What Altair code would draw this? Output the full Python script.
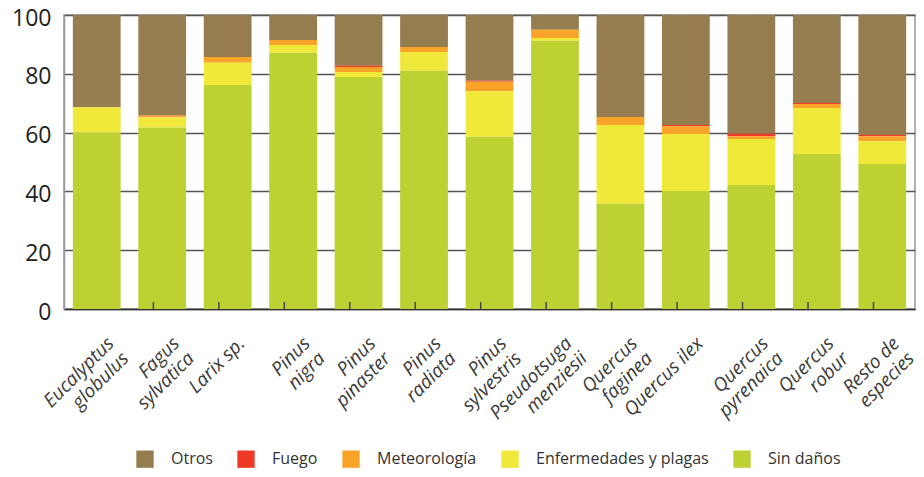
import altair as alt
import pandas as pd

categories = ["Eucalyptus|globulus", "Fagus|sylvatica", "Larix sp.", "Pinus|nigra",
              "Pinus|pinaster", "Pinus|radiata", "Pinus|sylvestris", "Pseudotsuga|menziesii",
              "Quercus|faginea", "Quercus ilex", "Quercus|pyrenaica", "Quercus|robur",
              "Resto de|especies"]
series = ["Otros", "Fuego", "Meteorología", "Enfermedades y plagas", "Sin daños"]
colors = ["#967D4F", "#EE3A24", "#F9A428", "#F0E93A", "#BDD232"]

sin_danos = [60.0, 61.7, 76.2, 87.2, 78.9, 81.0, 58.6, 91.2, 35.8, 40.1, 42.2, 52.7, 49.3]
enfermedades = [8.5, 3.4, 7.6, 2.6, 1.7, 6.4, 15.5, 1.0, 26.8, 19.4, 15.6, 15.7, 7.8]
meteorologia = [0.2, 0.6, 1.9, 1.7, 1.7, 1.7, 3.2, 2.8, 2.7, 2.7, 1.0, 1.3, 1.7]
fuego = [0.0, 0.1, 0.0, 0.0, 0.4, 0.0, 0.3, 0.0, 0.0, 0.4, 0.8, 0.4, 0.4]
otros = [31.3, 34.2, 14.3, 8.5, 17.3, 10.9, 22.4, 5.0, 34.7, 37.4, 40.4, 29.9, 40.8]

values = {"Otros": otros, "Fuego": fuego, "Meteorología": meteorologia,
          "Enfermedades y plagas": enfermedades, "Sin daños": sin_danos}
stack_rank = {"Sin daños": 0, "Enfermedades y plagas": 1, "Meteorología": 2, "Fuego": 3, "Otros": 4}

rows = []
for s in series:
    for c, v in zip(categories, values[s]):
        rows.append({"cat": c, "serie": s, "valor": v, "orden": stack_rank[s]})
df = pd.DataFrame(rows)
ticks_df = pd.DataFrame({"cat": categories[1:]})

FONT = "Open Sans"

xscale = alt.Scale(domain=categories, paddingInner=0.27, paddingOuter=0.135)

bars = alt.Chart(df).mark_bar().encode(
    x=alt.X("cat:N", sort=categories, scale=xscale,
            axis=alt.Axis(title=None, labelExpr="split(datum.label, '|')",
                          labelAngle=-45, labelAlign="right", labelBaseline="middle",
                          labelFontSize=19, labelFontStyle="italic", labelColor="#3a3a3a",
                          labelFont=FONT, labelPadding=31, labelOffset=14, ticks=False,
                          labelLineHeight=21, labelLimit=300,
                          domainColor="#333", domainWidth=1.5)),
    y=alt.Y("valor:Q", stack="zero",
            scale=alt.Scale(domain=[0, 100], nice=False),
            axis=alt.Axis(title=None, values=[0, 20, 40, 60, 80, 100], ticks=False,
                          labelFontSize=23, labelFont=FONT, labelColor="#222",
                          labelPadding=13, labelOffset=3, grid=True, gridColor="#555",
                          gridWidth=1.5, domainColor="#999", domainWidth=1.5)),
    color=alt.Color("serie:N", scale=alt.Scale(domain=series, range=colors),
                    legend=alt.Legend(title=None, orient="none", direction="horizontal",
                                      legendX=72, legendY=435, symbolType="square",
                                      symbolSize=300, symbolStrokeWidth=0, labelFontSize=16,
                                      labelFont=FONT, labelColor="#333", labelLimit=400,
                                      labelOffset=17, columnPadding=24)),
    order=alt.Order("orden:Q", sort="ascending"),
)

ticks = alt.Chart(ticks_df).mark_rule(color="#444", strokeWidth=1.5, xOffset=-8.8).encode(
    x=alt.X("cat:N", sort=categories, scale=xscale),
    y=alt.value(294),
    y2=alt.value(287),
)

chart = alt.layer(bars, ticks).properties(
    width=851, height=294,
    autosize=alt.AutoSizeParams(type="none"),
    padding={"left": 56, "top": 7, "right": 1, "bottom": 160},
).configure_view(stroke="#999", strokeWidth=1.5)

chart.save("out.html", embed_options={"renderer": "svg", "actions": False})
